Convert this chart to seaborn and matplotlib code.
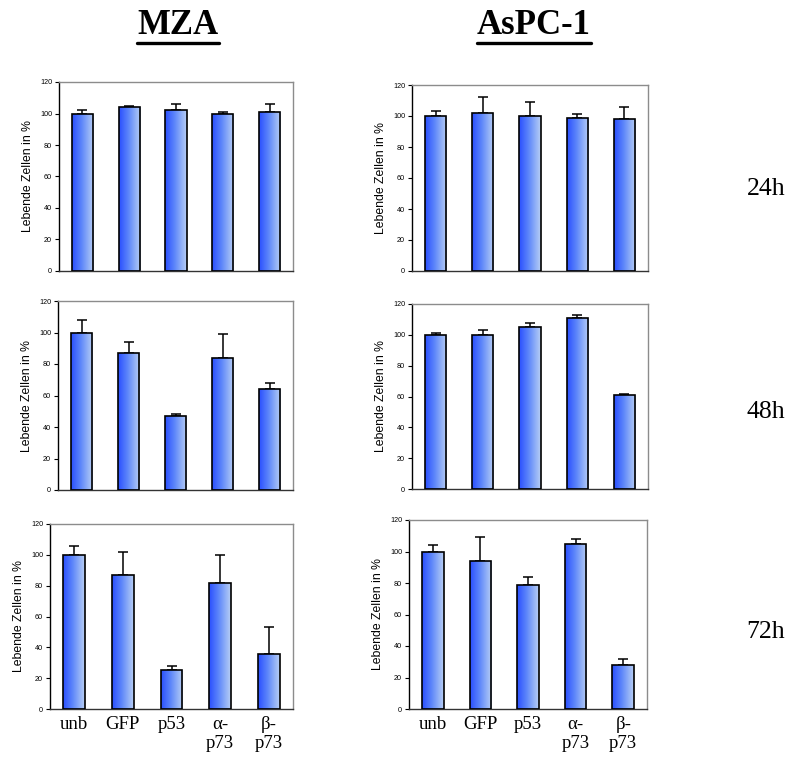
import numpy as np
import pandas as pd
import matplotlib
matplotlib.use("Agg")
import matplotlib.pyplot as plt
from matplotlib.colors import LinearSegmentedColormap
from matplotlib.lines import Line2D
import seaborn as sns

# ---- data ----
categories = ["unb", "GFP", "p53", "α-\np73", "β-\np73"]
cell_lines = ["MZA", "AsPC-1"]
timepoints = ["24h", "48h", "72h"]

mza_24_mean = [100, 104, 102, 100, 101]
mza_24_err = [2, 1, 4, 1, 5]
aspc_24_mean = [100, 102, 100, 99, 98]
aspc_24_err = [3, 10, 9, 2, 8]

mza_48_mean = [100, 87, 47, 84, 64]
mza_48_err = [8, 7, 1, 15, 4]
aspc_48_mean = [100, 100, 105, 111, 61]
aspc_48_err = [1, 3, 3, 2, 0.5]

mza_72_mean = [100, 87, 25, 82, 36]
mza_72_err = [6, 15, 3, 18, 17]
aspc_72_mean = [100, 94, 79, 105, 28]
aspc_72_err = [4, 15, 5, 3, 4]

yticks = [0, 20, 40, 60, 80, 100, 120]
ylabel = "Lebende Zellen in %"

panels = {
    ("MZA", "24h"): (mza_24_mean, mza_24_err),
    ("AsPC-1", "24h"): (aspc_24_mean, aspc_24_err),
    ("MZA", "48h"): (mza_48_mean, mza_48_err),
    ("AsPC-1", "48h"): (aspc_48_mean, aspc_48_err),
    ("MZA", "72h"): (mza_72_mean, mza_72_err),
    ("AsPC-1", "72h"): (aspc_72_mean, aspc_72_err),
}

sns.set_style("white")
plt.rcParams["font.family"] = ["Liberation Sans", "DejaVu Sans"]
plt.rcParams["text.color"] = "black"
plt.rcParams["axes.labelcolor"] = "black"
plt.rcParams["xtick.color"] = "black"
plt.rcParams["ytick.color"] = "black"

W, H = 798, 762
fig = plt.figure(figsize=(W / 100, H / 100), dpi=100)

# axes rectangles in pixels: (left, top, right, bottom)
rects = {
    ("MZA", "24h"): (59, 82, 293, 271),
    ("AsPC-1", "24h"): (412, 85, 648, 271),
    ("MZA", "48h"): (58, 301, 293, 490),
    ("AsPC-1", "48h"): (412, 304, 648, 489),
    ("MZA", "72h"): (50, 524, 293, 709),
    ("AsPC-1", "72h"): (409, 520, 647, 709),
}

cmap = LinearSegmentedColormap.from_list(
    "barblue", [(0.0, "#2a4fff"), (0.45, "#5f88fa"), (1.0, "#b8cff5")])
grad = np.linspace(0, 1, 128).reshape(1, -1)

for (line, tp), (means, errs) in panels.items():
    l, t, r, b = rects[(line, tp)]
    ax = fig.add_axes([l / W, 1 - b / H, (r - l) / W, (b - t) / H])
    df = pd.DataFrame({"cat": categories, "val": means})
    sns.barplot(data=df, x="cat", y="val", ax=ax, width=0.45,
                color="#4a70ff", edgecolor="black", linewidth=1.2,
                errorbar=None)
    # gradient fill clipped to each bar (dark left -> light right)
    for p in ax.patches:
        x0, y0 = p.get_x(), p.get_y()
        w, h = p.get_width(), p.get_height()
        p.set_facecolor("none")
        p.set_zorder(3)
        im = ax.imshow(grad, extent=[x0, x0 + w, y0, y0 + h], aspect="auto",
                       cmap=cmap, zorder=2, interpolation="bilinear",
                       origin="lower")
        im.set_clip_path(p)
    ax.set_aspect("auto")
    ax.set_xlim(-0.5, 4.5)
    ax.set_ylim(0, 120)
    # upward-only error bars
    xs = np.arange(len(categories))
    ax.errorbar(xs, means, yerr=[np.zeros(len(errs)), errs], fmt="none",
                ecolor="black", elinewidth=1.1, capsize=3.6, capthick=1.1,
                zorder=1)
    ax.set_yticks(yticks)
    ax.set_yticklabels([str(v) for v in yticks], fontsize=5.2)
    ax.tick_params(axis="y", which="both", left=True, length=3, width=0.8,
                   pad=2, direction="out")
    ax.tick_params(axis="x", bottom=False, length=0)
    ax.set_ylabel(ylabel, fontsize=8.8, labelpad=4)
    ax.set_xlabel("")
    ax.set_xticks(xs)
    if tp == "72h":
        ax.set_xticklabels(categories, fontsize=13.5,
                           family=["Liberation Serif", "DejaVu Serif"],
                           linespacing=1.15, va="top")
        ax.tick_params(axis="x", pad=5)
    else:
        ax.set_xticklabels([])
    for s in ["top", "right"]:
        ax.spines[s].set_visible(True)
        ax.spines[s].set_color("#8c8c8c")
        ax.spines[s].set_linewidth(1.0)
    ax.spines["left"].set_color("black")
    ax.spines["left"].set_linewidth(1.0)
    ax.spines["bottom"].set_color("#333333")
    ax.spines["bottom"].set_linewidth(1.0)
    ax.set_facecolor("white")

# column titles (bold, underlined)
titles = []
for name, cx in zip(cell_lines, [178, 534]):
    txt = fig.text(cx / W, 1 - 25 / H, name, ha="center", va="center",
                   fontsize=25, fontweight="bold", color="black",
                   family=["Liberation Serif", "DejaVu Serif"])
    titles.append(txt)

# row labels
for tp, cy in zip(timepoints, [189, 412, 632]):
    fig.text(766 / W, 1 - cy / H, tp, ha="center", va="center",
             fontsize=18.5, color="black",
             family=["Liberation Serif", "DejaVu Serif"])

fig.canvas.draw()
renderer = fig.canvas.get_renderer()
for txt in titles:
    bb = txt.get_window_extent(renderer)
    yline = 1 - 43 / H
    fig.add_artist(Line2D([bb.x0 / W, bb.x1 / W], [yline, yline],
                          transform=fig.transFigure, color="black", lw=2.4))

fig.savefig("out.png", dpi=100, facecolor="white")
